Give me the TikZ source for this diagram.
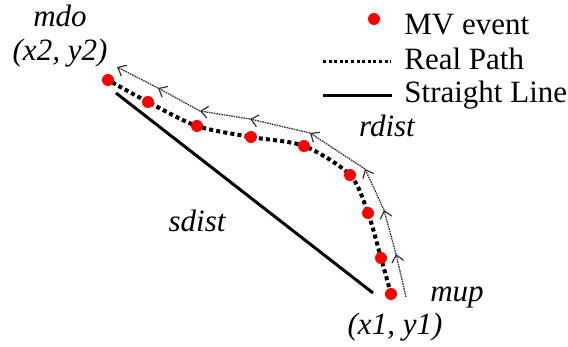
\documentclass[tikz,border=0pt]{standalone}
\usepackage{fontspec}
\setmainfont{Liberation Serif}
\usetikzlibrary{positioning, arrows.meta}
\definecolor{eventColor}{HTML}{FF0000}
\definecolor{moveColor}{HTML}{333333}

\begin{document}
\begin{tikzpicture}[
    x=0.5pt, y=-0.5pt,
    every node/.style={font=\fontsize{15.5}{18}\selectfont, inner sep=0pt},
    mvdot/.style={
        circle,
        fill=eventColor,
        minimum size=6pt,
        inner sep=0pt,
    },
    realpath/.style={
        line width=2pt,
        dash pattern=on 2pt off 1.6pt,
    },
    straight/.style={
        line width=1.5pt,
    },
    move/.style={
        -{Straight Barb[length=3.5pt, width=6pt, line width=0.6pt]},
        line width=0.65pt,
        dash pattern=on 0.8pt off 0.45pt,
        color=moveColor,
    },
    label/.style={
        font=\fontsize{15.5}{18}\selectfont\itshape,
        anchor=base,
    },
    legend/.style={
        anchor=base west,
    },
]

\useasboundingbox (0,0) rectangle (568,347);

% event positions, from mup up to mdo
\coordinate (p1) at (391,294);
\coordinate (p2) at (381,258);
\coordinate (p3) at (368,213);
\coordinate (p4) at (350,175);
\coordinate (p5) at (304,146);
\coordinate (p6) at (251,137);
\coordinate (p7) at (197,126);
\coordinate (p8) at (148,102);
\coordinate (p9) at (108,80);

% movement arrows beside the path
\coordinate (a0) at (406,297);
\coordinate (a1) at (396,254);
\coordinate (a2) at (384,210);
\coordinate (a3) at (365,169);
\coordinate (a4) at (310,133);
\coordinate (a5) at (250,119);
\coordinate (a6) at (200,111);
\coordinate (a7) at (158,88);
\coordinate (a8) at (117,67);

\coordinate (s1) at (373,293);
\coordinate (s2) at (116,93);

\draw[straight] (s1) -- (s2);
\draw[realpath] plot[smooth, tension=0.5] coordinates {(p1) (p2) (p3) (p4) (p5) (p6) (p7) (p8) (p9)};

\draw[move] (a0) -- (a1);
\draw[move] (a1) -- (a2);
\draw[move] (a2) -- (a3);
\draw[move] (a3) -- (a4);
\draw[move] (a4) -- (a5);
\draw[move] (a5) -- (a6);
\draw[move] (a6) -- (a7);
\draw[move] (a7) -- (a8);

\node[mvdot] (mup) at (p1) {};
\node[mvdot] (d2) at (p2) {};
\node[mvdot] (d3) at (p3) {};
\node[mvdot] (d4) at (p4) {};
\node[mvdot] (d5) at (p5) {};
\node[mvdot] (d6) at (p6) {};
\node[mvdot] (d7) at (p7) {};
\node[mvdot] (d8) at (p8) {};
\node[mvdot] (mdo) at (p9) {};

% labels
\node[label] (mdoname) at (60,27) {mdo};
\node[label] (mdopos) at (60,61) {(x2, y2)};
\node[label] (mupname) at (457,302) {mup};
\node[label] (muppos) at (395,335) {(x1, y1)};
\node[label] (rdist) at (387,137) {rdist};
\node[label] (sdist) at (197,232) {sdist};

% legend
\node[mvdot] (keydot) at (374,19) {};
\node[legend] (keyevent) at (404,35) {MV event};
\coordinate (kr1) at (323,62);
\coordinate (kr2) at (391,62);
\draw[line width=1.5pt, dash pattern=on 1.5pt off 1.3pt] (kr1) -- (kr2);
\node[legend] (keyreal) at (404,70) {Real Path};
\coordinate (ks1) at (323,96);
\coordinate (ks2) at (392,96);
\draw[straight] (ks1) -- (ks2);
\node[legend] (keystraight) at (404,103) {Straight Line};

\end{tikzpicture}
\end{document}
